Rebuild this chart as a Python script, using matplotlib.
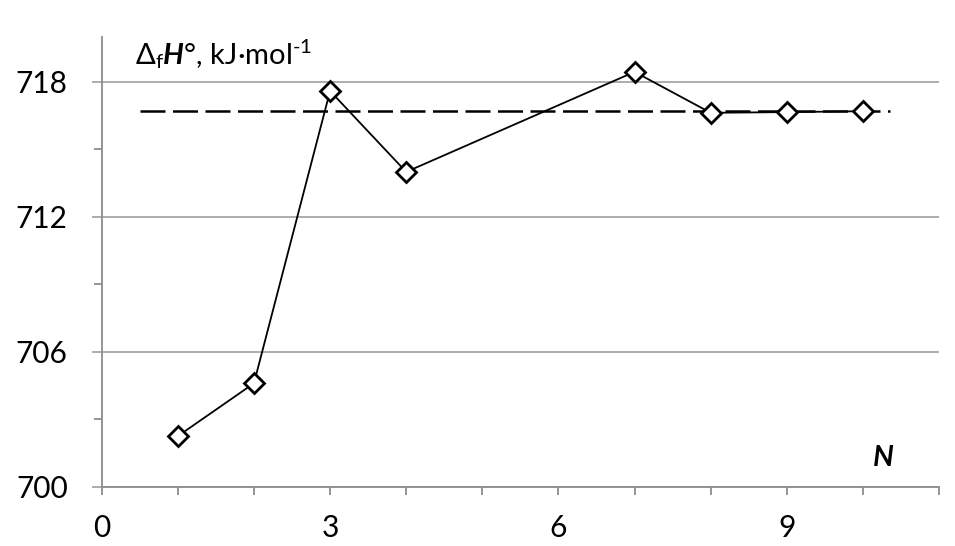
import matplotlib
matplotlib.use('Agg')
import matplotlib.pyplot as plt
from matplotlib.ticker import FixedLocator, MultipleLocator, FuncFormatter

plt.rcParams['font.family'] = ['Lato', 'DejaVu Sans']
plt.rcParams['mathtext.fontset'] = 'custom'
plt.rcParams['mathtext.rm'] = 'Lato'
plt.rcParams['mathtext.it'] = 'Lato:italic'
plt.rcParams['mathtext.bf'] = 'Lato:bold'
plt.rcParams['mathtext.bfit'] = 'Lato:bold:italic'

# data
n = [1, 2, 3, 4, 7, 8, 9, 10]
dH = [702.25, 704.6, 717.6, 714.0, 718.45, 716.63, 716.66, 716.7]
ref_x = [0.5, 10.35]
ref_y = [716.7, 716.7]
y_major = [700, 706, 712, 718]
y_minor = [703, 709, 715]

axis_grey = '#8c8c8c'
grid_grey = '#a6a6a6'

fig = plt.figure(figsize=(9.55, 5.46), dpi=100)
ax = fig.add_axes([0.1065, 0.1086, 0.8768, 0.8236])

ax.plot(ref_x, ref_y, color='black', lw=1.8, dashes=(10, 3), zorder=2)
ax.plot(n, dH, color='black', lw=1.3, marker='D', ms=10.5,
        mfc='white', mec='black', mew=2.0, zorder=3)

ax.set_xlim(0, 11)
ax.set_ylim(700, 720)

ax.xaxis.set_major_locator(MultipleLocator(1))
ax.xaxis.set_major_formatter(FuncFormatter(lambda v, p: f'{v:.0f}' if round(v) % 3 == 0 and v < 10.5 else ''))
ax.yaxis.set_major_locator(FixedLocator(y_major))
ax.yaxis.set_minor_locator(FixedLocator(y_minor))

ax.grid(axis='y', which='major', color=grid_grey, lw=1.3, zorder=0)
ax.set_axisbelow(True)

for side in ['top', 'right']:
    ax.spines[side].set_visible(False)
for side in ['left', 'bottom']:
    ax.spines[side].set_color(axis_grey)
    ax.spines[side].set_linewidth(1.3)

ax.tick_params(axis='y', which='major', length=7.5, width=1.3, color=grid_grey,
               pad=17, labelsize=21.5)
ax.tick_params(axis='y', which='minor', length=5.5, width=1.3, color=axis_grey)
ax.tick_params(axis='x', which='major', length=6, width=1.3, color=axis_grey,
               pad=14, labelsize=21.5)

ax.text(0.04, 0.938, r'$\Delta_{\mathrm{f}}\mathbfit{H}$°, kJ·mol$^{\text{-1}}$',
        transform=ax.transAxes, fontsize=21, ha='left', va='baseline')
ax.text(0.933, 0.064, 'N', transform=ax.transAxes, fontsize=21,
        fontweight='bold', fontstyle='italic', ha='center', va='center')

fig.savefig('out.png', dpi=100)
